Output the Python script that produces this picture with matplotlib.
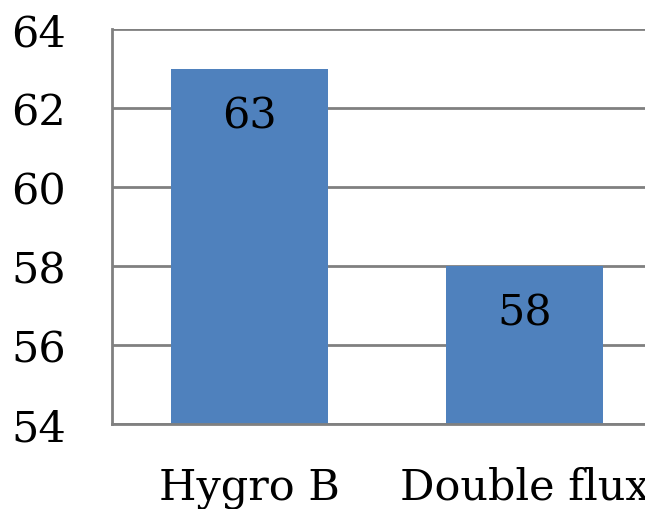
import matplotlib
matplotlib.use("Agg")
import matplotlib.pyplot as plt

categories = ["Hygro B", "Double flux"]
values = [63, 58]
yticks = [54, 56, 58, 60, 62, 64]

plt.rcParams['font.family'] = ['DejaVu Serif']

fig = plt.figure(figsize=(6.45, 5.1), dpi=100)
ax = fig.add_axes([112/645, 85/510, 550/645, 395/510])

x = list(range(len(categories)))
bars = ax.bar(x, values, width=0.571, color="#4F81BD", zorder=3)
ax.set_xlim(-0.5, 1.5)
ax.set_ylim(54, 64)
ax.set_yticks(yticks)
ax.set_yticklabels([str(t) for t in yticks], fontsize=31)
ax.set_xticks(x)
ax.set_xticklabels(categories, fontsize=31)
ax.tick_params(axis='y', length=0, pad=33)
ax.tick_params(axis='x', length=0, pad=30)
ax.yaxis.grid(True, color="#808080", linewidth=2, zorder=0)
for s in ["top", "right"]:
    ax.spines[s].set_visible(False)
for s in ["left", "bottom"]:
    ax.spines[s].set_color("#808080")
    ax.spines[s].set_linewidth(2)
    ax.spines[s].set_zorder(4)

for xi, v in zip(x, values):
    ax.annotate(str(v), (xi, v), xytext=(0, -47*0.72), textcoords="offset points",
                ha="center", va="center", fontsize=31, zorder=5)

fig.savefig("out.png", dpi=100)
